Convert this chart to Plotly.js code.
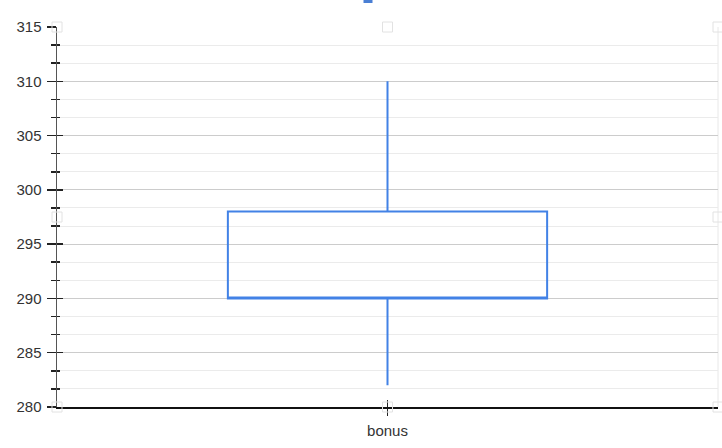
<!DOCTYPE html>
<html>
<head>
<meta charset="utf-8">
<script src="https://cdn.plot.ly/plotly-3.0.1.min.js"></script>
<style>html,body{margin:0;padding:0;background:#fff;}#chart{width:722px;height:448px;}</style>
</head>
<body>
<div id="chart"></div>
<script>
// Data
const categories = ['bonus'];
const q1Values = [290];
const medianValues = [290];
const q3Values = [298];
const lowerWhisker = [282];
const upperWhisker = [310];

const yRange = [280, 315];
const yMajorStep = 5;
const yMinorStep = 5 / 3;

const boxColor = '#4282e6';

const trace = {
  type: 'box',
  x: categories,
  q1: q1Values,
  median: medianValues,
  q3: q3Values,
  lowerfence: lowerWhisker,
  upperfence: upperWhisker,
  width: 0.483,
  whiskerwidth: 0,
  line: {color: boxColor, width: 2},
  fillcolor: 'rgba(255,255,255,0)',
  boxpoints: false,
  hoverinfo: 'skip',
  showlegend: false
};

function handle(px, py) {
  return {
    type: 'rect', xref: 'paper', yref: 'paper',
    xsizemode: 'pixel', ysizemode: 'pixel',
    xanchor: px, yanchor: py,
    x0: -5, x1: 5, y0: -5, y1: 5,
    line: {color: '#e2e2e2', width: 1},
    fillcolor: 'rgba(255,255,255,0)',
    layer: 'above'
  };
}

const shapes = [];
[[0,0],[0.5,0],[1,0],[0,0.5],[1,0.5],[0,1],[0.5,1],[1,1]].forEach(p => shapes.push(handle(p[0], p[1])));
shapes.push({type:'line', xref:'paper', yref:'paper', x0:1, x1:1, y0:0, y1:1, line:{color:'#e8e8e8', width:1}, layer:'below'});
shapes.push({type:'rect', xref:'paper', yref:'paper', xsizemode:'pixel', ysizemode:'pixel', xanchor:0.5, yanchor:1, x0:-24, x1:-15, y0:24, y1:28, line:{width:0}, fillcolor:'#4a7fd4'});

const layout = {
  width: 722, height: 448,
  margin: {l: 57, r: 4, t: 27, b: 41},
  paper_bgcolor: '#fff', plot_bgcolor: '#fff',
  font: {family: 'Liberation Sans, Arial, sans-serif', size: 15, color: '#333'},
  showlegend: false,
  xaxis: {
    type: 'category',
    range: [-0.5, 0.5],
    showgrid: false,
    zeroline: false,
    showline: true, linecolor: '#111', linewidth: 2,
    ticks: 'outside', ticklen: 7, tickwidth: 1, tickcolor: '#222',
    ticklabelstandoff: 2,
    tickfont: {size: 15, color: '#333'},
    fixedrange: true
  },
  xaxis2: {
    overlaying: 'x', anchor: 'y', type: 'linear',
    range: [-0.5, 0.5], tickvals: [0],
    showticklabels: false, showgrid: false, zeroline: false, showline: false,
    ticks: 'inside', ticklen: 7, tickwidth: 1, tickcolor: '#222'
  },
  yaxis: {
    range: yRange,
    tick0: 280, dtick: yMajorStep,
    showgrid: true, gridcolor: '#cccccc', gridwidth: 1,
    zeroline: false,
    showline: true, linecolor: '#555', linewidth: 1.5,
    ticks: 'outside', ticklen: 9, tickwidth: 1.5, tickcolor: '#222',
    ticklabelstandoff: 2,
    tickfont: {size: 15, color: '#333'},
    minor: {tick0: 280, dtick: yMinorStep, ticks: 'outside', ticklen: 5, tickwidth: 1.5, tickcolor: '#222', showgrid: true, gridcolor: '#ebebeb', gridwidth: 1},
    fixedrange: true
  },
  yaxis2: {
    overlaying: 'y', anchor: 'x', side: 'left',
    range: yRange, tick0: 280, dtick: yMajorStep,
    showticklabels: false, showgrid: false, zeroline: false, showline: false,
    ticks: 'inside', ticklen: 6, tickwidth: 1.5, tickcolor: '#222',
    minor: {tick0: 280, dtick: yMinorStep, ticks: 'inside', ticklen: 3, tickwidth: 1.5, tickcolor: '#222', showgrid: false}
  },
  shapes: shapes
};

const dummy = {type: 'scatter', x: [], y: [], xaxis: 'x2', yaxis: 'y2', showlegend: false, hoverinfo: 'skip'};

Plotly.newPlot('chart', [trace, dummy], layout, {displayModeBar: false, staticPlot: true});
</script>
</body>
</html>
